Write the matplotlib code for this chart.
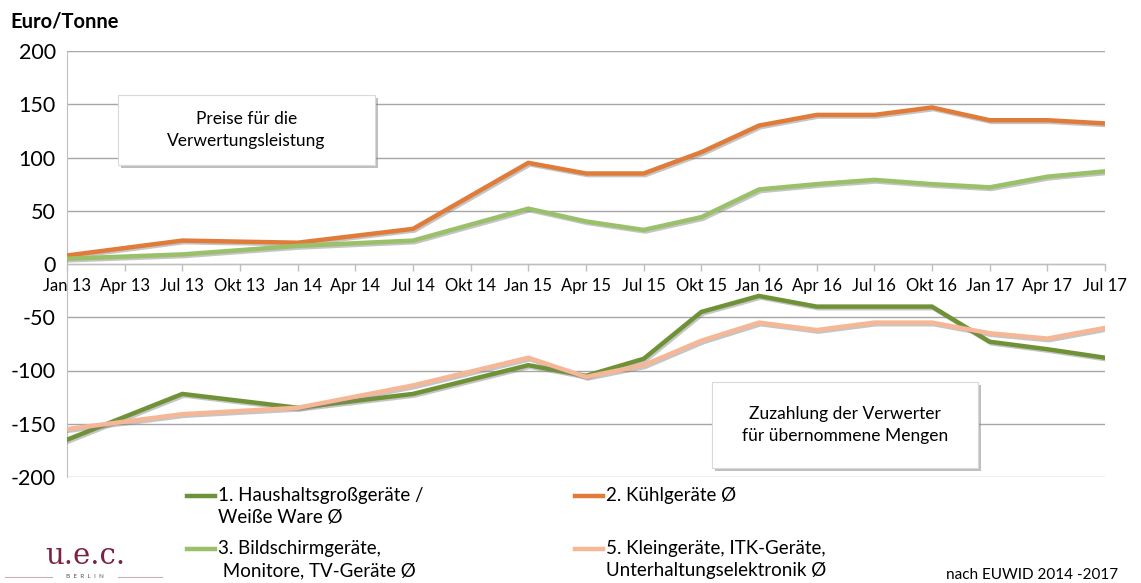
import matplotlib
matplotlib.use("Agg")
import matplotlib.pyplot as plt
import matplotlib.patheffects as pe
from matplotlib.patches import Rectangle
from matplotlib.lines import Line2D

plt.rcParams['font.family'] = ['Lato', 'DejaVu Sans']
plt.rcParams['axes.unicode_minus'] = False

# quarter labels on the x axis
quarters = ["Jan 13", "Apr 13", "Jul 13", "Okt 13", "Jan 14", "Apr 14", "Jul 14",
            "Okt 14", "Jan 15", "Apr 15", "Jul 15", "Okt 15", "Jan 16", "Apr 16",
            "Jul 16", "Okt 16", "Jan 17", "Apr 17", "Jul 17"]

# dates where a value was reported (index into quarters)
obs_idx = [0, 2, 4, 6, 8, 9, 10, 11, 12, 13, 14, 15, 16, 17, 18]

haushalt = [-165, -122, -135, -122, -95, -105, -89, -45, -30, -40, -40, -40, -73, -80, -88]
kuehl = [8, 22, 20, 33, 95, 85, 85, 105, 130, 140, 140, 147, 135, 135, 132]
bildschirm = [5, 9, 17, 22, 52, 40, 32, 44, 70, 75, 79, 75, 72, 82, 87]
klein = [-155, -141, -135, -114, -88, -106, -95, -72, -55, -62, -55, -55, -65, -70, -60]

labels = ["1. Haushaltsgroßgeräte /\nWeiße Ware Ø", "2. Kühlgeräte Ø",
          "3. Bildschirmgeräte,\n Monitore, TV-Geräte Ø",
          "5. Kleingeräte, ITK-Geräte,\nUnterhaltungselektronik Ø"]
colors = ["#6f9236", "#e07b39", "#9bc06a", "#f6b797"]

W, H = 1141, 583
fig = plt.figure(figsize=(W / 100, H / 100), dpi=100)
ax = fig.add_axes([67 / W, 1 - 477 / H, (1105 - 67) / W, (477 - 51) / H])

shadow = [pe.SimpleLineShadow(offset=(1.2, -1.2), shadow_color="#7f7f7f", alpha=0.45),
          pe.Normal()]
for vals, c in zip([haushalt, kuehl, bildschirm, klein], colors):
    ax.plot(obs_idx, vals, color=c, lw=3.2, solid_joinstyle="miter",
            path_effects=shadow, zorder=3)

ax.spines["bottom"].set_position(("data", 0))
ax.spines["bottom"].set_color("#bfbfbf")
ax.spines["left"].set_color("#bfbfbf")
ax.spines["top"].set_visible(False)
ax.spines["right"].set_visible(False)

ax.set_xlim(0, len(quarters) - 1)
ax.set_ylim(-200, 200)
ax.set_yticks(range(-200, 201, 50))
ax.set_xticks(range(len(quarters)))
ax.set_xticklabels(quarters)
ax.tick_params(axis="y", length=0, pad=8, labelsize=15.5)
ax.tick_params(axis="x", length=5, width=1, color="#bfbfbf", pad=5, labelsize=12)
ax.grid(axis="y", color="#a6a6a6", lw=1)
ax.set_axisbelow(True)

fig.text(10 / W, 1 - 22 / H, "Euro/Tonne", fontsize=14.5, fontweight="bold", va="center")


def box(x0, y0, x1, y1, text):
    r = Rectangle((x0 / W, 1 - y1 / H), (x1 - x0) / W, (y1 - y0) / H,
                  transform=fig.transFigure, facecolor="white", edgecolor="#d9d9d9",
                  lw=0.8, zorder=5,
                  path_effects=[pe.SimplePatchShadow(offset=(2.5, -2.5), shadow_rgbFace="#808080", alpha=0.5),
                                pe.Normal()])
    fig.add_artist(r)
    fig.text((x0 + x1) / 2 / W, 1 - (y0 + y1) / 2 / H, text, ha="center", va="center",
             fontsize=12.5, linespacing=1.4, zorder=6)


box(118, 95, 375, 165, "Preise für die\nVerwertungsleistung")
box(712, 382, 978, 468, "Zuzahlung der Verwerter\nfür übernommene Mengen")

# legend below the plot
leg_pos = [(187, 496), (575, 496), (187, 549), (575, 549)]
for (lx, ly), lab, c in zip(leg_pos, labels, colors):
    fig.add_artist(Line2D([lx / W, (lx + 28) / W], [1 - ly / H, 1 - ly / H],
                          transform=fig.transFigure, color=c, lw=3.2))
    fig.text((lx + 31) / W, 1 - (ly - 9) / H, lab, fontsize=13.5, va="top",
             linespacing=1.35)

# logo
fig.text(85 / W, 1 - 556 / H, "u.e.c.", fontsize=21, color="#7b2346", ha="center",
         va="center", family="DejaVu Serif")
fig.text(85 / W, 1 - 577 / H, "B  E  R  L  I  N", fontsize=4.5, color="#555555",
         ha="center", va="center")
for xa, xb in [(5, 52), (118, 162)]:
    fig.add_artist(Line2D([xa / W, xb / W], [1 - 577 / H, 1 - 577 / H],
                          transform=fig.transFigure, color="#c8b0b8", lw=0.8))

fig.text(1118 / W, 1 - 575 / H, "nach EUWID 2014 -2017", fontsize=11, ha="right",
         va="center")

fig.savefig("out.png", dpi=100)
